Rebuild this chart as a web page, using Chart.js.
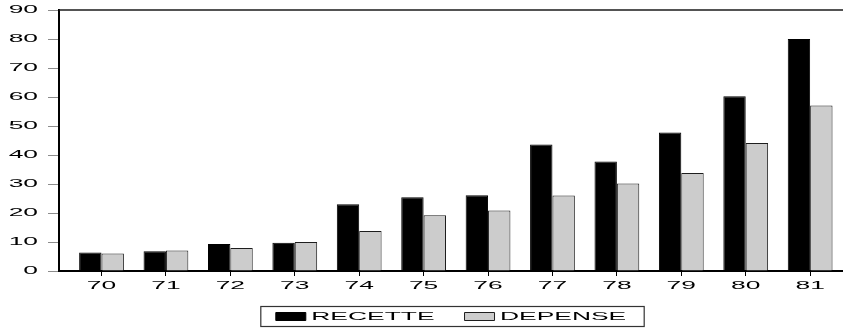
<!DOCTYPE html>
<html>
<head>
<meta charset="utf-8">
<title>Recette / Depense</title>
<script src="https://cdn.jsdelivr.net/npm/chart.js@4.4.1/dist/chart.umd.min.js"></script>
<style>
    html, body { margin: 0; padding: 0; background: #fff; }
    canvas { display: block; }
</style>
</head>
<body>
<canvas id="chart" width="843" height="332"></canvas>
<script>
const years = [70, 71, 72, 73, 74, 75, 76, 77, 78, 79, 80, 81];
const recette = [6.4, 6.8, 9.3, 9.7, 23.0, 25.4, 26.1, 43.6, 37.8, 47.8, 60.3, 80.0];
const depense = [6.0, 7.1, 7.9, 10.0, 13.8, 19.2, 20.9, 26.0, 30.2, 33.8, 44.1, 57.1];
const yTicks = [0, 10, 20, 30, 40, 50, 60, 70, 80, 90];

const FONT = "'Liberation Sans', Arial, sans-serif";
const STRETCH = 2.4; // the original labels are drawn very wide

const canvas = document.getElementById("chart");
const ctx = canvas.getContext("2d");

// widen every text around its anchor point (and tell Chart.js the wider size)
const plainFill = ctx.fillText.bind(ctx);
const plainMeasure = ctx.measureText.bind(ctx);
ctx.fillText = function (text, x, y) {
    ctx.save();
    ctx.translate(x, y);
    ctx.scale(STRETCH, 1);
    plainFill(text, 0, 0);
    ctx.restore();
};
ctx.measureText = function (text) {
    const m = plainMeasure(text);
    return {
        width: m.width * STRETCH,
        actualBoundingBoxAscent: m.actualBoundingBoxAscent,
        actualBoundingBoxDescent: m.actualBoundingBoxDescent
    };
};

// top line of the frame + box round the legend
const framePlugin = {
    id: "frame",
    beforeDraw(chart) {
        // x axis box is kept short so the legend sits high; don't clip its labels
        chart.scales.x._computeLabelArea = () => undefined;
    },
    afterDraw(chart) {
        const { ctx, chartArea } = chart;
        ctx.save();
        ctx.strokeStyle = "#1a1a1a";
        ctx.lineWidth = 1.5;
        ctx.beginPath();
        ctx.moveTo(chartArea.left, chartArea.top);
        ctx.lineTo(chartArea.right, chartArea.top);
        ctx.stroke();

        const boxes = chart.legend.legendHitBoxes;
        if (boxes && boxes.length) {
            const first = boxes[0];
            const last = boxes[boxes.length - 1];
            const mid = first.top + first.height / 2;
            ctx.lineWidth = 1.2;
            ctx.strokeStyle = "#333";
            ctx.strokeRect(first.left - 15, mid - 10, last.left + last.width - first.left + 33, 20);
        }
        ctx.restore();
    }
};

new Chart(ctx, {
    type: "bar",
    data: {
        labels: years,
        datasets: [
            {
                label: "RECETTE",
                data: recette,
                backgroundColor: "#000000",
                borderColor: "#000000",
                borderWidth: 1
            },
            {
                label: "DEPENSE",
                data: depense,
                backgroundColor: "#cccccc",
                borderColor: "#1e1e1e",
                borderWidth: 1
            }
        ]
    },
    options: {
        responsive: false,
        animation: false,
        events: [],
        categoryPercentage: 0.695,
        barPercentage: 1,
        layout: { padding: { top: 10, right: 0, bottom: 0, left: 0 } },
        scales: {
            x: {
                type: "linear",
                min: 69.34,
                max: 81.51,
                offset: false,
                afterBuildTicks: s => { s.ticks = years.map(v => ({ value: v })); },
                afterFit: s => { s.height = 10; s.paddingLeft = 0; s.paddingRight = 0; },
                grid: { drawOnChartArea: false, offset: false, tickLength: 5, tickColor: "#000", tickWidth: 1 },
                border: { display: true, color: "#000", width: 2 },
                ticks: {
                    padding: 3,
                    color: "#000",
                    autoSkip: false,
                    maxRotation: 0,
                    font: { family: FONT, size: 11 }
                }
            },
            y: {
                min: 0,
                max: 90,
                afterBuildTicks: s => { s.ticks = yTicks.map(v => ({ value: v })); },
                afterFit: s => { s.width = 59; s.paddingTop = 0; s.paddingBottom = 0; },
                grid: { drawOnChartArea: false, tickLength: 11, tickColor: "#8c8c8c", tickWidth: 1 },
                border: { display: true, color: "#000", width: 2 },
                ticks: {
                    padding: 10,
                    color: "#000",
                    font: { family: FONT, size: 11 }
                }
            }
        },
        plugins: {
            tooltip: { enabled: false },
            legend: {
                position: "bottom",
                fullSize: false,
                labels: {
                    boxWidth: 30,
                    boxHeight: 8,
                    padding: 30,
                    color: "#000",
                    font: { family: FONT, size: 11 }
                }
            }
        }
    },
    plugins: [framePlugin]
});
</script>
</body>
</html>
